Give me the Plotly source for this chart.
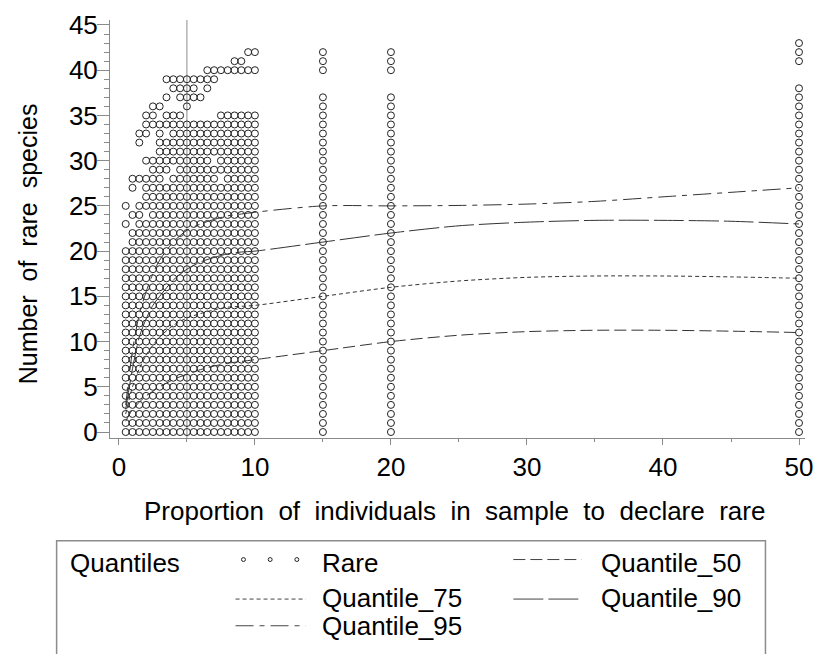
import plotly.graph_objects as go

# ---- Observed numbers of rare species (open circles) ----
# Each row: a species count and the cutoff values (in %) at which it occurs.
# "a-b" means every cutoff from a to b in steps of 0.5 within the 0.5-10 block.
rare_levels = [43, 42, 41, 40, 39, 38, 37, 36, 35, 34, 33, 32, 31, 30, 29, 28, 27, 26,
               25, 24, 23, 22, 21, 20, 19, 18, 17, 16, 15, 14, 13, 12, 11, 10, 9, 8,
               7, 6, 5, 4, 3, 2, 1, 0]
rare_cutoffs = [
    "50",
    "9.5-10,15,20,50",
    "8.5-9,15,20,50",
    "6.5-10,15,20",
    "3.5-7",
    "4-5.5,6.5,50",
    "3.5,4.5-6,15,20,50",
    "2.5-3,5,15,20,50",
    "2-2.5,3.5-4.5,7.5-10,15,20,50",
    "2-10,15,20,50",
    "1.5-2,3,4-10,15,20,50",
    "1.5,3-10,15,20,50",
    "3-10,15,20,50",
    "2-6.5,7.5-10,15,20,50",
    "2.5-3.5,4.5-10,15,20,50",
    "1-3,4-7,8-10,15,20,50",
    "1,2-10,15,20,50",
    "2-10,15,20,50",
    "0.5,1.5-10,15,20,50",
    "1-1.5,2.5-10,15,20,50",
    "0.5,1.5-10,15,20,50",
    "1-10,15,20,50",
    "1-10,15,20,50",
    "0.5-10,15,20,50", "0.5-10,15,20,50", "0.5-10,15,20,50", "0.5-10,15,20,50",
    "0.5-10,15,20,50", "0.5-10,15,20,50", "0.5-10,15,20,50", "0.5-10,15,20,50",
    "0.5-10,15,20,50", "0.5-10,15,20,50", "0.5-10,15,20,50", "0.5-10,15,20,50",
    "0.5-10,15,20,50", "0.5-10,15,20,50", "0.5-10,15,20,50", "0.5-10,15,20,50",
    "0.5-10,15,20,50", "0.5-10,15,20,50", "0.5-10,15,20,50", "0.5-10,15,20,50",
    "0.5-10,15,20,50",
]

# ---- Fitted quantile curves ----
curve_x = [0.5, 1, 1.5, 2, 2.5, 3, 4, 5, 6, 7, 8, 9, 10, 15, 20, 25, 30, 35, 40, 45, 50]
quantile_50 = [1.2, 2.5, 3.3, 4.0, 4.5, 5.0, 5.8, 6.4, 6.9, 7.3, 7.6, 7.8, 8.0,
               9.0, 10.0, 10.7, 11.1, 11.25, 11.25, 11.15, 11.0]
quantile_75 = [2.0, 5.0, 7.0, 8.5, 9.6, 10.5, 11.8, 12.6, 13.1, 13.5, 13.8, 13.9, 14.0,
               15.0, 16.0, 16.7, 17.1, 17.25, 17.25, 17.15, 17.0]
quantile_90 = [2.5, 7.0, 10.5, 12.5, 14.0, 15.0, 16.8, 18.0, 18.8, 19.3, 19.7, 19.9, 20.0,
               21.0, 22.0, 22.8, 23.2, 23.4, 23.4, 23.3, 23.0]
quantile_95 = [3.0, 9.0, 13.0, 15.5, 17.5, 19.0, 21.0, 22.3, 23.0, 23.5, 23.9, 24.1, 24.3,
               25.0, 25.0, 25.05, 25.2, 25.5, 26.0, 26.5, 27.0]

x_ticks = [0, 10, 20, 30, 40, 50]
y_ticks = [0, 5, 10, 15, 20, 25, 30, 35, 40, 45]


def expand(spec):
    vals = []
    for part in spec.split(","):
        if "-" in part:
            a, b = (float(p) for p in part.split("-"))
            v = a
            while v <= b + 1e-9:
                vals.append(v)
                v += 0.5
        else:
            vals.append(float(part))
    return vals


px_, py_ = [], []
for lvl, spec in zip(rare_levels, rare_cutoffs):
    for xv in expand(spec):
        px_.append(xv)
        py_.append(lvl)

FONT = "Liberation Sans, Arial, sans-serif"
INK = "#222222"
AXIS = "#8a8a8a"

fig = go.Figure()
fig.add_trace(go.Scatter(
    x=px_, y=py_, mode="markers", name="Rare",
    marker=dict(symbol="circle-open", size=7, color=INK, line=dict(width=1, color=INK)),
))

dashes = {
    "Quantile_50": "12px,5px",
    "Quantile_75": "4px,3px",
    "Quantile_90": "30px,5px",
    "Quantile_95": "18px,6px,5px,6px",
}
for name, ys in [("Quantile_50", quantile_50), ("Quantile_75", quantile_75),
                 ("Quantile_90", quantile_90), ("Quantile_95", quantile_95)]:
    fig.add_trace(go.Scatter(
        x=curve_x, y=ys, mode="lines", name=name,
        line=dict(color="#333333", width=1, dash=dashes[name], shape="spline", smoothing=0.8),
    ))

# plot area in pixels
L, R, T, B = 110, 813, 15, 438
W, H = 823, 654


def pxx(x):
    return (x - L) / (R - L)


def pxy(y):
    return (B - y) / (B - T)


# reference line at 5 %
fig.add_shape(type="line", xref="x", yref="paper", x0=5, x1=5, y0=0, y1=1,
              line=dict(color="#8c8c8c", width=1), layer="below")

# axis titles
fig.add_annotation(x=pxx(458), y=pxy(512), xref="paper", yref="paper",
                   text="Proportion\u00a0 of\u00a0 individuals\u00a0 in\u00a0 sample\u00a0 to\u00a0 declare\u00a0 rare",
                   showarrow=False, font=dict(family=FONT, size=26, color="black"),
                   xanchor="center", yanchor="middle")
fig.add_annotation(x=pxx(27), y=pxy(241), xref="paper", yref="paper",
                   text="Number\u00a0 of\u00a0 rare\u00a0 species", textangle=-90,
                   showarrow=False, font=dict(family=FONT, size=25, color="black"),
                   xanchor="center", yanchor="middle")

# legend frame
fig.add_shape(type="rect", xref="paper", yref="paper",
              x0=pxx(56), x1=pxx(773), y0=pxy(670), y1=pxy(542),
              line=dict(color="#8c8c8c", width=1.5))

LEG_FONT = dict(family=FONT, size=26, color="black")
fig.add_annotation(x=pxx(68), y=pxy(565), xref="paper", yref="paper", text="Quantiles",
                   showarrow=False, font=LEG_FONT, xanchor="left", yanchor="middle")

# legend row entries: (label, text x, text y, sample x0, x1, sample y, kind)
legend_items = [
    ("Rare", 322, 565, 245, 299, 561, "marker"),
    ("Quantile_50", 605, 565, 518, 587, 561, "Quantile_50"),
    ("Quantile_75", 322, 600, 237, 308, 601, "Quantile_75"),
    ("Quantile_90", 605, 600, 518, 587, 601, "Quantile_90"),
    ("Quantile_95", 322, 628, 237, 308, 628, "Quantile_95"),
]
for label, tx, ty, sx0, sx1, sy, kind in legend_items:
    fig.add_annotation(x=pxx(tx), y=pxy(ty), xref="paper", yref="paper", text=label,
                       showarrow=False, font=LEG_FONT, xanchor="left", yanchor="middle")
    if kind == "marker":
        for cx in (sx0, (sx0 + sx1) / 2, sx1):
            fig.add_shape(type="circle", xref="paper", yref="paper",
                          x0=pxx(cx - 2), x1=pxx(cx + 2), y0=pxy(sy + 2), y1=pxy(sy - 2),
                          line=dict(color=INK, width=1))
    else:
        fig.add_shape(type="line", xref="paper", yref="paper",
                      x0=pxx(sx0), x1=pxx(sx1), y0=pxy(sy), y1=pxy(sy),
                      line=dict(color="#444444", width=1, dash=dashes[kind]))

fig.update_layout(
    width=W, height=H,
    margin=dict(l=L, r=W - R, t=T, b=H - B, pad=0),
    plot_bgcolor="white", paper_bgcolor="white",
    showlegend=False,
    font=dict(family=FONT, color="black"),
)
fig.update_xaxes(
    range=[-0.654, 50.44], tickvals=x_ticks, ticktext=[str(v) for v in x_ticks],
    ticks="outside", ticklen=6, tickwidth=1, tickcolor=AXIS,
    showline=True, linecolor=AXIS, linewidth=1, showgrid=False, zeroline=False,
    tickfont=dict(family=FONT, size=26, color="black"),
    minor=dict(tickvals=[5, 15, 25, 35, 45], ticks="outside", ticklen=3, tickcolor=AXIS),
    ticklabelstandoff=0,
)
fig.update_yaxes(
    range=[-0.66, 45.55], tickvals=y_ticks, ticktext=[str(v) for v in y_ticks],
    ticks="outside", ticklen=12, tickwidth=1, tickcolor=AXIS,
    showline=True, linecolor=AXIS, linewidth=1, showgrid=False, zeroline=False,
    tickfont=dict(family=FONT, size=26, color="black"),
    minor=dict(dtick=1, ticks="outside", ticklen=5, tickcolor=AXIS),
    ticklabelstandoff=-6,
)

fig.write_html("out.html")
